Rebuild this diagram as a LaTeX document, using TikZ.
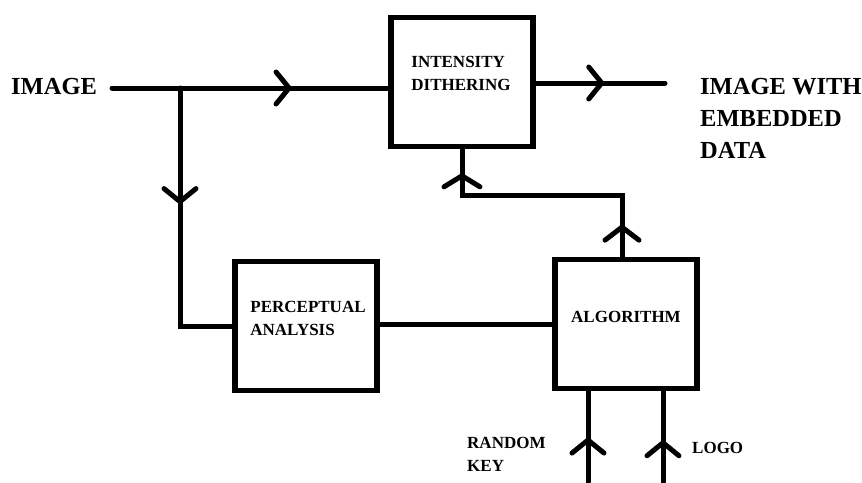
\documentclass[tikz,border=0pt]{standalone}
\usepackage{fontspec}
\setmainfont{Liberation Serif}
\usetikzlibrary{arrows, arrows.meta}
\usetikzlibrary{calc}
\usetikzlibrary{decorations.markings}

\tikzset{
  blk/.style={draw, line width=5.5pt, minimum width=142pt, minimum height=129pt, inner sep=0pt},
  txt/.style={font=\bfseries\fontsize{17}{23}\selectfont, align=left, inner sep=0pt},
  big/.style={font=\bfseries\fontsize{24.5}{32}\selectfont, align=left, inner sep=0pt},
  wire/.style={line width=5pt, line cap=round},
  chev/.style={postaction={decorate}, decoration={markings,
      mark=at position #1 with {\arrow{Straight Barb[length=13pt, width=32pt, round]}}}},
  chevtwo/.style 2 args={postaction={decorate}, decoration={markings,
      mark=at position #1 with {\arrow{Straight Barb[length=13pt, width=34pt, round]}},
      mark=at position #2 with {\arrow{Straight Barb[length=11pt, width=36pt, round]}}}}
}

\begin{document}
\begin{tikzpicture}[x=1pt, y=-1pt]
      \useasboundingbox (0,0) rectangle (862,482);

      \node[blk] (dith) at (462,82) {};
      \node[blk] (perc) at (306,326) {};
      \node[blk] (algo) at (626,324) {};

      \node[txt] (dithtxt) at (461,73) {INTENSITY\\DITHERING};
      \node[txt] (perctxt) at (308,318) {PERCEPTUAL\\ANALYSIS};
      \node[txt] (algotxt) at (626,317) {ALGORITHM};

      \node[big, anchor=west] (img) at (11,87) {IMAGE};
      \node[big, anchor=west] (outtxt) at (700,118) {IMAGE WITH\\EMBEDDED\\DATA};
      \node[txt, anchor=west] (keytxt) at (467,454) {RANDOM\\KEY};
      \node[txt, anchor=west] (logotxt) at (692,448) {LOGO};

      \coordinate (in) at (112,88);
      \coordinate (split) at (180,88);
      \coordinate (out) at (665,83);
      \coordinate (keyin) at (588,482);
      \coordinate (logoin) at (663,482);
      \coordinate (fb) at (540,195);

      \draw[wire, chev=0.65] (in) -- (in -| dith.west);
      \draw[wire, chev=0.53] (dith.east |- out) -- (out);
      \draw[wire, chev=0.40] (split) |- (perc.west);
      \draw[wire] (perc.east |- algo.west) -- (algo.west);
      \draw[wire, chevtwo={0.12}{0.91}] ([xshift=-4pt]algo.north) |- (fb) -| (dith.south);
      \draw[wire, chev=0.49] (keyin) -- (keyin |- algo.south);
      \draw[wire, chev=0.46] (logoin) -- (logoin |- algo.south);
    \end{tikzpicture}
\end{document}
